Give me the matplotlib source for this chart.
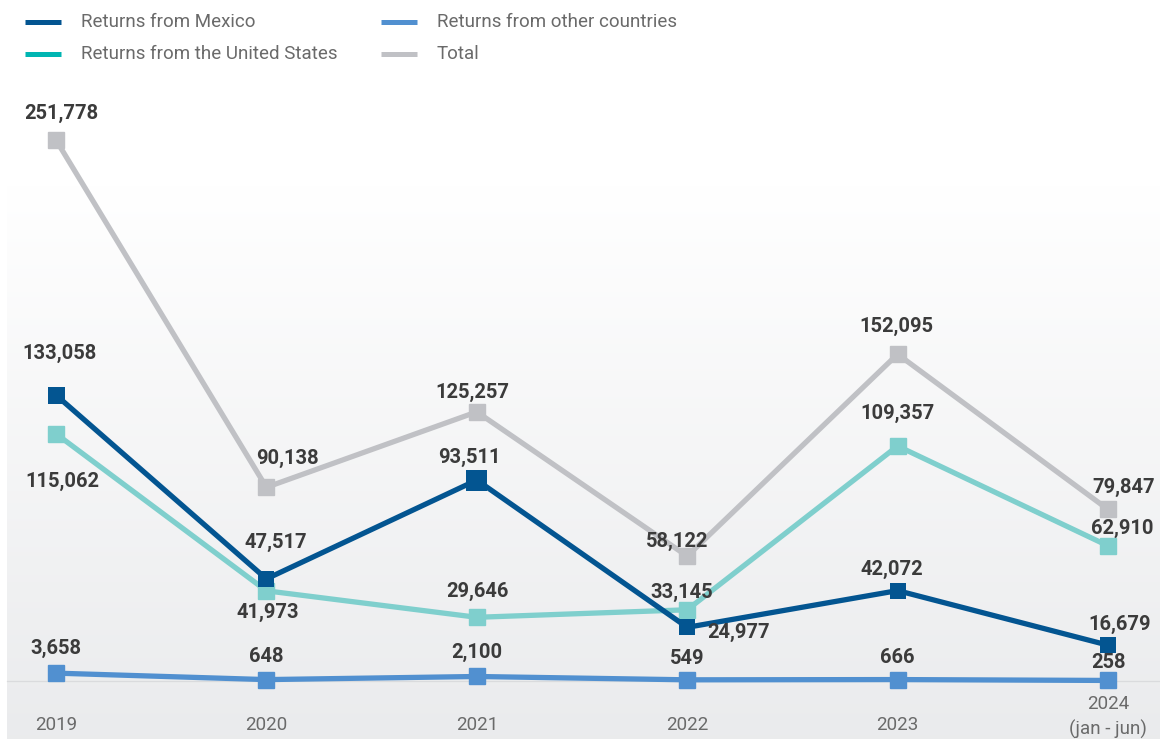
import numpy as np
import matplotlib
matplotlib.use("Agg")
import matplotlib.pyplot as plt
from matplotlib.lines import Line2D

years = ["2019", "2020", "2021", "2022", "2023", "2024\n(jan - jun)"]
mexico = [133058, 47517, 93511, 24977, 42072, 16679]
united_states = [115062, 41973, 29646, 33145, 109357, 62910]
other = [3658, 648, 2100, 549, 666, 258]
total = [251778, 90138, 125257, 58122, 152095, 79847]

plt.rcParams["font.family"] = ["Roboto", "DejaVu Sans"]

W, H = 1160, 739
fig = plt.figure(figsize=(W / 100, H / 100), dpi=100)
ax = fig.add_axes([0, 0, 1, 1])
ax.set_axis_off()

x = np.arange(len(years))
px_x = 210.4          # pixels per category step
px_y = 541 / 251778   # pixels per return
x0_px, y0_px = 56, 681
ax.set_xlim(-x0_px / px_x, (W - x0_px) / px_x)
ax.set_ylim(-(H - y0_px) / px_y, y0_px / px_y)

def px2data(px, py):
    return (px - x0_px) / px_x, (y0_px - py) / px_y

PT = 0.72  # points per pixel at 100 dpi

# soft grey gradient panel behind the plot area (white on top, grey below)
gx0, gy0 = px2data(7, 739)
gx1, gy1 = px2data(1160, 185)
t = np.linspace(0, 1, 256)[:, None, None]          # 0 at bottom row
top = np.array([1.0, 1.0, 1.0])
bot = np.array([0.918, 0.922, 0.929])
img = bot * (1 - t) + top * t
img = np.repeat(img, 2, axis=1)
ax.imshow(img, extent=[gx0, gx1, gy0, gy1], aspect="auto", zorder=0,
          origin="lower", interpolation="bilinear")
ax.plot([gx0, gx1], [0, 0], color="#dadbdd", lw=0.9, zorder=1)

c_mex = "#035591"
c_us_line = "#7fcfcd"
c_us_leg = "#00b5b2"
c_oth = "#5190d0"
c_tot = "#c0c1c5"

LW = 3.8
ax.plot(x, total, color=c_tot, lw=LW, marker="s", ms=16 * PT, zorder=3)
ax.plot(x, united_states, color=c_us_line, lw=LW, marker="s", ms=16 * PT, zorder=4)
ax.plot(x, mexico, color=c_mex, lw=LW, zorder=5)
mex_ms = [17, 16, 21, 16, 16, 16]
ax.scatter(x, mexico, s=[(m * PT) ** 2 for m in mex_ms], marker="s",
           color=c_mex, linewidths=0, zorder=5)
ax.plot(x, other, color=c_oth, lw=LW, marker="s", ms=16 * PT, zorder=6)

lab = dict(fontsize=14.5, fontweight="bold", color="#3b3b3b", zorder=10)

def label(vals, i, dx_px, dy_px):
    ax.annotate(f"{vals[i]:,}", (x[i], vals[i]), xytext=(dx_px * PT, dy_px * PT),
                textcoords="offset points", ha="center", va="center", **lab)

total_off = [(5, 27), (21, 29), (-4, 19), (-10, 15), (-1, 28), (16, 22)]
mexico_off = [(4, 42), (9, 36), (-7, 23), (51, -5), (-6, 21), (12, 21)]
us_off = [(6, -48), (1, -22), (1, 26), (-6, 17), (0, 33), (14, 17)]
other_off = [(0, 25), (0, 23), (0, 24), (0, 21), (0, 22), (0, 18)]
for i in range(len(years)):
    label(total, i, *total_off[i])
    label(mexico, i, *mexico_off[i])
    label(united_states, i, *us_off[i])
    label(other, i, *other_off[i])

# category labels
tick_kw = dict(fontsize=13.5, color="#6a6a6a", ha="center", va="center")
_, ty = px2data(0, 725)
for i, yr in enumerate(years[:-1]):
    ax.text(x[i], ty, yr, **tick_kw)
first, second = years[-1].split("\n")
_, ty1 = px2data(0, 704)
_, ty2 = px2data(0, 729)
ax.text(x[5], ty1, first, **tick_kw)
ax.text(x[5], ty2, second, **tick_kw)

# legend
legend_items = [
    ("Returns from Mexico", c_mex, 25, 22),
    ("Returns from the United States", c_us_leg, 25, 54),
    ("Returns from other countries", c_oth, 381, 22),
    ("Total", c_tot, 381, 54),
]
for text, col, lx, ly in legend_items:
    fig.add_artist(Line2D([lx / W, (lx + 36) / W], [1 - ly / H, 1 - ly / H],
                          color=col, lw=5 * PT, solid_capstyle="butt"))
    fig.text((lx + 56) / W, 1 - ly / H, text, fontsize=13.5, color="#6a6a6a",
             ha="left", va="center")

fig.savefig("out.png", dpi=100)
